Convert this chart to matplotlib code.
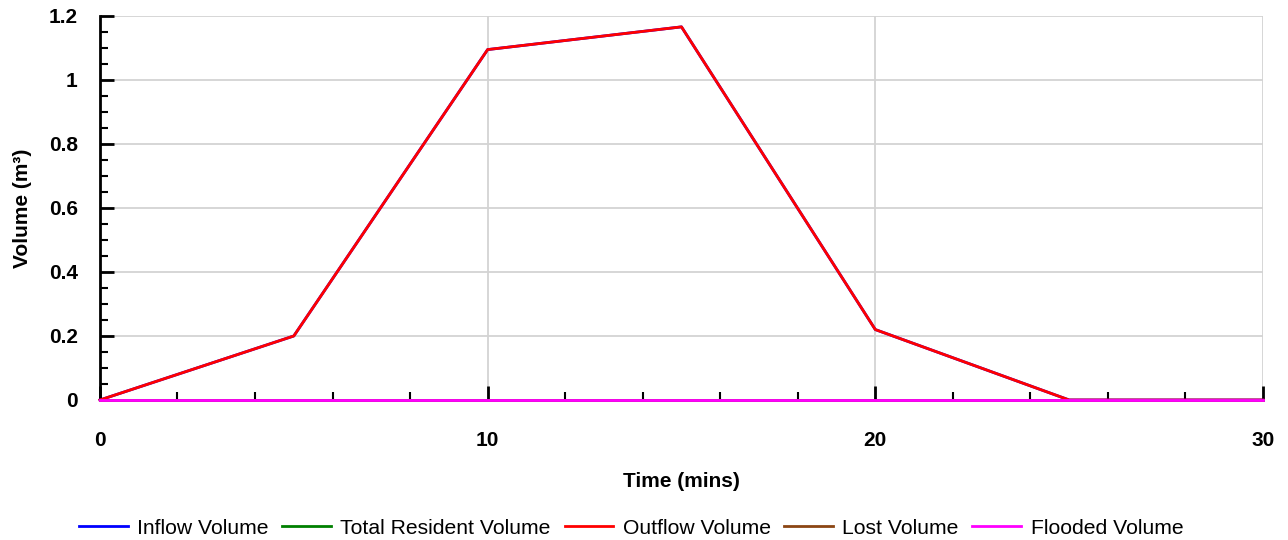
import numpy as np
import matplotlib.pyplot as plt
from matplotlib.ticker import MultipleLocator

plt.rcParams['font.family'] = ['Liberation Sans', 'DejaVu Sans']

# --- data ---
time_mins = [0, 5, 10, 15, 20, 25, 30]
inflow = [0.0, 0.2, 1.095, 1.166, 0.22, 0.0, 0.0]
resident = [0.0, 0.0, 0.0, 0.0, 0.0, 0.0, 0.0]
outflow = [0.0, 0.2, 1.095, 1.166, 0.22, 0.0, 0.0]
lost = [0.0, 0.0, 0.0, 0.0, 0.0, 0.0, 0.0]
flooded = [0.0, 0.0, 0.0, 0.0, 0.0, 0.0, 0.0]

series = [
    ('Inflow Volume', inflow, '#0000ff'),
    ('Total Resident Volume', resident, '#008000'),
    ('Outflow Volume', outflow, '#ff0000'),
    ('Lost Volume', lost, '#8b4513'),
    ('Flooded Volume', flooded, '#ff00ff'),
]

fig = plt.figure(figsize=(12.88, 5.4), dpi=100)
ax = fig.add_axes([0.0776, 0.2593, 0.903, 0.7111])

for name, vals, col in series:
    ax.plot(time_mins, vals, color=col, lw=2, label=name, clip_on=False, zorder=3)

ax.set_xlim(0, 30)
ax.set_ylim(0, 1.2)
ax.xaxis.set_major_locator(MultipleLocator(10))
ax.xaxis.set_minor_locator(MultipleLocator(2))
ax.yaxis.set_major_locator(MultipleLocator(0.2))
ax.yaxis.set_minor_locator(MultipleLocator(0.05))
ax.yaxis.set_major_formatter(lambda v, p: '0' if abs(v) < 1e-9 else ('%g' % round(v, 2)))

ax.grid(True, which='major', color='#d3d3d3', lw=1.3)
ax.set_axisbelow(True)
for s in ['top', 'right']:
    ax.spines[s].set_visible(False)
for s in ['left', 'bottom']:
    ax.spines[s].set_linewidth(2)

ax.tick_params(axis='both', which='major', direction='in', length=10, width=2,
               labelsize=15)
ax.tick_params(axis='both', which='minor', direction='in', length=6, width=1.5)
ax.tick_params(axis='x', which='major', pad=22)
ax.tick_params(axis='y', which='major', pad=16)
for lbl in ax.get_xticklabels() + ax.get_yticklabels():
    lbl.set_fontweight('bold')

ax.set_xlabel('Time (mins)', fontsize=15, fontweight='bold', labelpad=16)
ax.set_ylabel('Volume (m³)', fontsize=15, fontweight='bold', labelpad=12)

fig.legend(loc='center', bbox_to_anchor=(0.49, 0.022), ncol=5, frameon=False,
           fontsize=15.2, handlelength=2.3, columnspacing=0.65, handletextpad=0.45,
           borderpad=0)

fig.savefig('out.png', dpi=100)
